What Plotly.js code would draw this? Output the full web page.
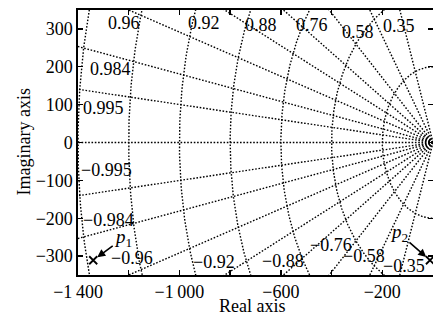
<!DOCTYPE html>
<html><head><meta charset="utf-8">
<script src="https://cdn.plot.ly/plotly-3.0.1.min.js"></script>
<style>html,body{margin:0;padding:0;background:#fff}</style>
</head><body><div id="chart" style="width:433px;height:321px"></div>
<script>
// ---- data ----
const dampingRatios = [0.995, 0.984, 0.96, 0.92, 0.86, 0.76, 0.58, 0.35];
const dampingLabels = ['0.995', '0.984', '0.96', '0.92', '0.88', '0.76', '0.58', '0.35'];
const naturalFreqs = [200, 400, 600, 800, 1000, 1200, 1400];
const poleNames = ['p1', 'p2'];
const poleReal = [-1340, -12];
const poleImag = [-311, -311];
const xTickVals = [-1400, -1000, -600, -200];
const xTickText = ['\u22121\u2009400', '\u22121\u2009000', '\u2212600', '\u2212200'];
const yTickVals = [300, 200, 100, 0, -100, -200, -300];
const yTickText = ['300', '200', '100', '0', '\u2212100', '\u2212200', '\u2212300'];

// ---- layout helpers (positions of grid labels, data units) ----
const upperLabelPos = [[-1301, 92], [-1270, 193], [-1220, 315], [-903, 315], [-678, 310], [-476, 310], [-297, 291], [-136, 307]];
const lowerLabelPos = [[-1289, -73], [-1278, -205], [-1187, -304], [-864, -316], [-591, -313], [-402, -271], [-272, -299], [-114, -325]];
const poleLabelOffset = [[30, -22], [-31, -27]];

const FONT = '"Liberation Serif","Times New Roman",Times,serif';
const gridLine = {color: '#000', width: 1.4, dash: '1.6px,1.7px'};
const traces = [];
const R = 3000;
// damping-ratio rays (upper and lower) plus real axis (zeta = 1)
dampingRatios.concat([1]).forEach(function (z) {
  const th = Math.acos(z);
  traces.push({type: 'scatter', mode: 'lines', x: [0, -R * Math.cos(th)], y: [0, R * Math.sin(th)], line: gridLine, hoverinfo: 'skip'});
  if (z < 1) traces.push({type: 'scatter', mode: 'lines', x: [0, -R * Math.cos(th)], y: [0, -R * Math.sin(th)], line: gridLine, hoverinfo: 'skip'});
});
// natural-frequency semicircles
naturalFreqs.forEach(function (w) {
  const xs = [], ys = [];
  for (let i = 0; i <= 360; i++) {
    const a = Math.PI / 2 + Math.PI * i / 360;
    xs.push(w * Math.cos(a)); ys.push(w * Math.sin(a));
  }
  traces.push({type: 'scatter', mode: 'lines', x: xs, y: ys, line: gridLine, hoverinfo: 'skip'});
});
// poles
traces.push({type: 'scatter', mode: 'markers', x: poleReal, y: poleImag,
  marker: {symbol: 'x-thin-open', size: 8, color: '#000', line: {color: '#000', width: 1.8}}, hoverinfo: 'skip'});

const ann = [];
dampingLabels.forEach(function (t, i) {
  ann.push({x: upperLabelPos[i][0], y: upperLabelPos[i][1], xref: 'x', yref: 'y', text: t, showarrow: false,
    font: {family: FONT, size: 18, color: '#000'}});
  ann.push({x: lowerLabelPos[i][0], y: lowerLabelPos[i][1], xref: 'x', yref: 'y', text: '\u2212' + t, showarrow: false,
    font: {family: FONT, size: 18, color: '#000'}});
});
poleNames.forEach(function (n, i) {
  ann.push({x: poleReal[i], y: poleImag[i], xref: 'x', yref: 'y',
    text: '<i>' + n.charAt(0) + '</i><sub>' + n.slice(1) + '</sub>',
    showarrow: true, arrowhead: 2, arrowsize: 1, arrowwidth: 1.6, arrowcolor: '#000', standoff: 5,
    ax: poleLabelOffset[i][0], ay: poleLabelOffset[i][1],
    font: {family: FONT, size: 19, color: '#000'}});
});
// axis titles
ann.push({xref: 'paper', yref: 'paper', x: 0.49, y: 0, yanchor: 'middle', yshift: -31, text: 'Real axis', showarrow: false,
  font: {family: FONT, size: 18, color: '#000'}});
ann.push({xref: 'paper', yref: 'paper', x: 0, y: 0.5, xanchor: 'center', xshift: -55, textangle: -90, text: 'Imaginary axis', showarrow: false,
  font: {family: FONT, size: 18, color: '#000'}});

const axisCommon = {showgrid: false, zeroline: false, showline: true, linecolor: '#000', linewidth: 1.6,
  mirror: 'ticks', ticks: 'inside', ticklen: 5, tickwidth: 1.4, tickcolor: '#000',
  tickfont: {family: FONT, size: 18, color: '#000'}, fixedrange: true};

const layout = {
  width: 433, height: 321,
  margin: {l: 78, r: 0, t: 10, b: 46, pad: 0},
  paper_bgcolor: '#fff', plot_bgcolor: '#fff',
  showlegend: false,
  font: {family: FONT, size: 18, color: '#000'},
  xaxis: Object.assign({}, axisCommon, {range: [-1400, 0], tickmode: 'array', tickvals: xTickVals, ticktext: xTickText,
    minor: {tickmode: 'linear', tick0: 0, dtick: 200, ticks: 'inside', ticklen: 5, tickwidth: 1.4, tickcolor: '#000', showgrid: false}}),
  yaxis: Object.assign({}, axisCommon, {range: [-350, 350], tickmode: 'array', tickvals: yTickVals, ticktext: yTickText}),
  annotations: ann
};
Plotly.newPlot('chart', traces, layout, {displayModeBar: false, staticPlot: true});
</script></body></html>
